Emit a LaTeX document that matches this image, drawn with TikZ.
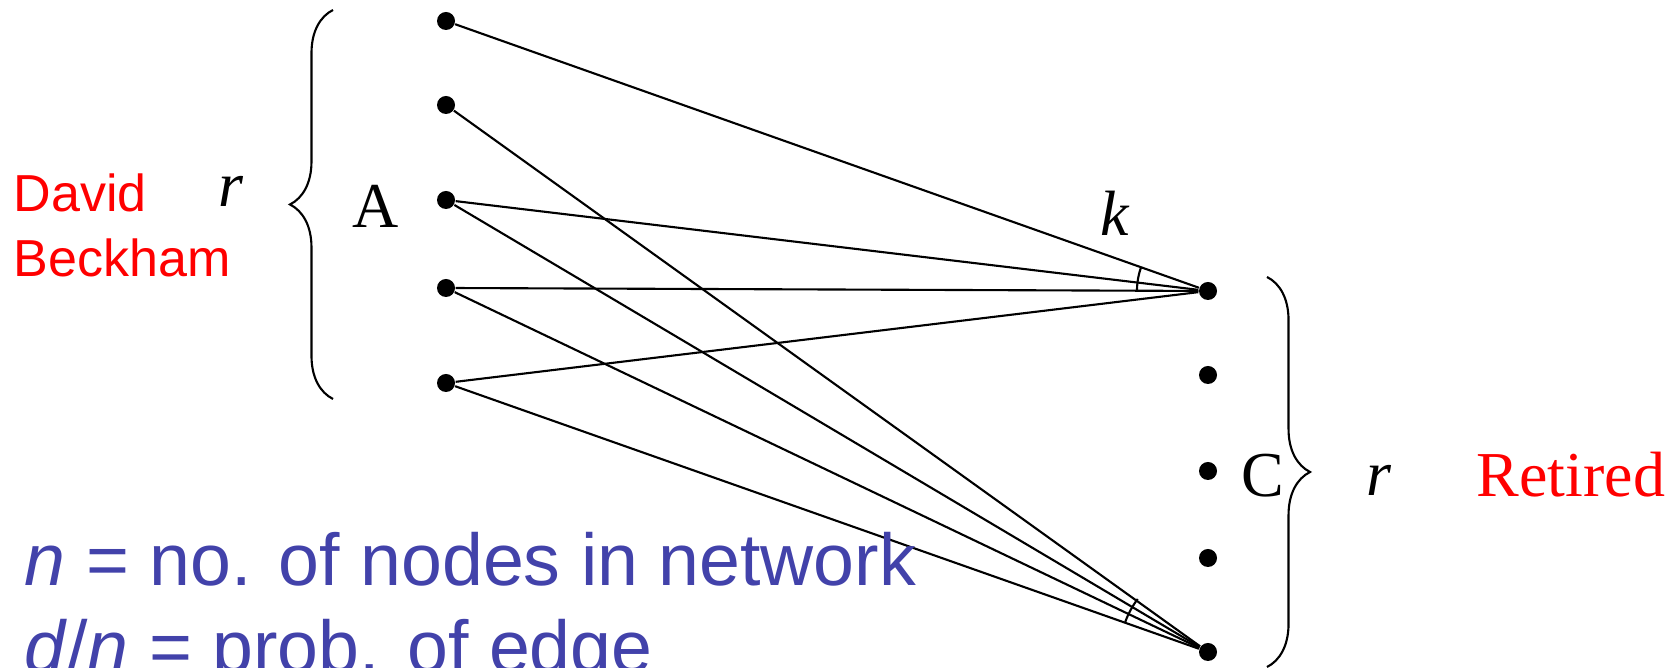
\documentclass[tikz,border=0pt]{standalone}
\usepackage{fontspec}
\setmainfont{Liberation Serif}
\setsansfont{Liberation Sans}
\usetikzlibrary{decorations.pathreplacing}
\definecolor{labelred}{RGB}{255,0,0}
\definecolor{noteblue}{RGB}{66,66,170}
\tikzset{
  vertex/.style={circle,fill,inner sep=0pt,minimum size=1.8mm},
  link/.style={line width=0.6pt},
  group brace/.style={decorate,decoration={brace,amplitude=4.3mm},line width=0.6pt},
  serif label/.style={inner sep=0pt,font=\fontsize{18.2}{21}\selectfont},
  name label/.style={inner sep=0pt,text=labelred,font=\sffamily\fontsize{14.8}{17}\selectfont},
  note/.style={inner sep=0pt,text=noteblue,font=\sffamily\fontsize{20.9}{24}\selectfont},
}

\begin{document}
\begin{tikzpicture}[x=0.01cm,y=0.01cm]
  \useasboundingbox (0,0) rectangle (1680,668);
  % the two groups of vertices
  \foreach \i/\y in {1/647,2/563,3/468,4/380,5/285}
    \node[vertex] (a\i) at (446,\y) {};
  \foreach \i/\y in {1/377,2/293,3/197,4/110,5/16}
    \node[vertex] (c\i) at (1208,\y) {};
  \foreach \u in {a1,a3,a4,a5}
    \draw[link] (\u) -- (c1);
  \foreach \u in {a2,a3,a4,a5}
    \draw[link] (\u) -- (c5);
  % angle marks
  \draw[link] (c1) ++(160.5:7.1mm) arc[start angle=160.5,end angle=180,radius=7.1mm];
  \draw[link] (c5) ++(143:8.8mm) arc[start angle=143,end angle=160,radius=8.8mm];
  % braces
  \draw[group brace] (333,269) -- (333,658);
  \draw[group brace] (1267,391) -- (1267,1);
  % labels
  \node[name label,anchor=base west] (david) at (13,456) {David};
  \node[name label,anchor=base west] (beckham) at (13,391) {Beckham};
  \node[serif label,anchor=base west] (rA) at (218,461) {\textit{r}};
  \node[serif label,anchor=base west] (labA) at (352,440) {A};
  \node[serif label,anchor=base west] (labk) at (1100,432) {\textit{k}};
  \node[serif label,anchor=base west] (labC) at (1241,171) {C};
  \node[serif label,anchor=base west] (rC) at (1366,172) {\textit{r}};
  \node[serif label,text=labelred,anchor=base west] (retired) at (1476,171) {Retired};
  \node[note,anchor=base west] (noteN) at (24,82) {\textit{n} = no. of nodes in network};
  \node[note,anchor=base west] (noteD) at (24,-5) {\textit{d}/\textit{n} = prob. of edge};
\end{tikzpicture}
\end{document}
